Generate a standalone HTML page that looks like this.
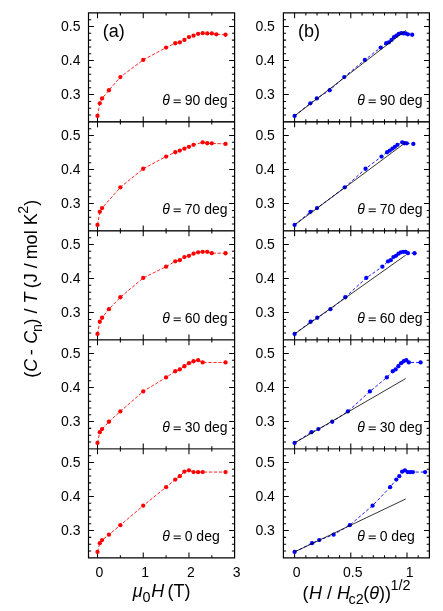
<!DOCTYPE html>
<html><head><meta charset="utf-8"><title>Figure</title>
<style>html,body{margin:0;padding:0;background:#fff}svg{display:block;will-change:transform}text{font-family:"Liberation Sans",sans-serif;fill:#000}.i{font-style:italic}</style>
</head><body>
<svg width="443" height="611" viewBox="0 0 443 611">
<rect width="443" height="611" fill="#fff"/>
<path d="M88.5,12.85H234.6V557.83H88.5ZM283.4,12.85H429.4V557.83H283.4Z" fill="none" stroke="#000" stroke-width="1.2" stroke-linecap="butt" stroke-linejoin="miter"/>
<path d="M97.5,12.85v5.4M97.5,121.85v-5.4M143.23,12.85v5.4M143.23,121.85v-5.4M188.96,12.85v5.4M188.96,121.85v-5.4M120.36,12.85v2.7M120.36,121.85v-2.7M166.09,12.85v2.7M166.09,121.85v-2.7M211.82,12.85v2.7M211.82,121.85v-2.7M88.5,115.03h2.7M234.6,115.03h-2.7M88.5,108.22h2.7M234.6,108.22h-2.7M88.5,101.41h2.7M234.6,101.41h-2.7M88.5,94.59h5.4M234.6,94.59h-5.4M88.5,87.78h2.7M234.6,87.78h-2.7M88.5,80.97h2.7M234.6,80.97h-2.7M88.5,74.16h2.7M234.6,74.16h-2.7M88.5,67.35h2.7M234.6,67.35h-2.7M88.5,60.53h5.4M234.6,60.53h-5.4M88.5,53.72h2.7M234.6,53.72h-2.7M88.5,46.91h2.7M234.6,46.91h-2.7M88.5,40.1h2.7M234.6,40.1h-2.7M88.5,33.29h2.7M234.6,33.29h-2.7M88.5,26.47h5.4M234.6,26.47h-5.4M88.5,19.66h2.7M234.6,19.66h-2.7M97.5,121.85v5.4M97.5,230.84v-5.4M143.23,121.85v5.4M143.23,230.84v-5.4M188.96,121.85v5.4M188.96,230.84v-5.4M120.36,121.85v2.7M120.36,230.84v-2.7M166.09,121.85v2.7M166.09,230.84v-2.7M211.82,121.85v2.7M211.82,230.84v-2.7M88.5,224.03h2.7M234.6,224.03h-2.7M88.5,217.21h2.7M234.6,217.21h-2.7M88.5,210.4h2.7M234.6,210.4h-2.7M88.5,203.59h5.4M234.6,203.59h-5.4M88.5,196.78h2.7M234.6,196.78h-2.7M88.5,189.97h2.7M234.6,189.97h-2.7M88.5,183.15h2.7M234.6,183.15h-2.7M88.5,176.34h2.7M234.6,176.34h-2.7M88.5,169.53h5.4M234.6,169.53h-5.4M88.5,162.72h2.7M234.6,162.72h-2.7M88.5,155.91h2.7M234.6,155.91h-2.7M88.5,149.09h2.7M234.6,149.09h-2.7M88.5,142.28h2.7M234.6,142.28h-2.7M88.5,135.47h5.4M234.6,135.47h-5.4M88.5,128.66h2.7M234.6,128.66h-2.7M97.5,230.84v5.4M97.5,339.84v-5.4M143.23,230.84v5.4M143.23,339.84v-5.4M188.96,230.84v5.4M188.96,339.84v-5.4M120.36,230.84v2.7M120.36,339.84v-2.7M166.09,230.84v2.7M166.09,339.84v-2.7M211.82,230.84v2.7M211.82,339.84v-2.7M88.5,333.02h2.7M234.6,333.02h-2.7M88.5,326.21h2.7M234.6,326.21h-2.7M88.5,319.4h2.7M234.6,319.4h-2.7M88.5,312.59h5.4M234.6,312.59h-5.4M88.5,305.77h2.7M234.6,305.77h-2.7M88.5,298.96h2.7M234.6,298.96h-2.7M88.5,292.15h2.7M234.6,292.15h-2.7M88.5,285.34h2.7M234.6,285.34h-2.7M88.5,278.53h5.4M234.6,278.53h-5.4M88.5,271.71h2.7M234.6,271.71h-2.7M88.5,264.9h2.7M234.6,264.9h-2.7M88.5,258.09h2.7M234.6,258.09h-2.7M88.5,251.28h2.7M234.6,251.28h-2.7M88.5,244.47h5.4M234.6,244.47h-5.4M88.5,237.65h2.7M234.6,237.65h-2.7M97.5,339.84v5.4M97.5,448.83v-5.4M143.23,339.84v5.4M143.23,448.83v-5.4M188.96,339.84v5.4M188.96,448.83v-5.4M120.36,339.84v2.7M120.36,448.83v-2.7M166.09,339.84v2.7M166.09,448.83v-2.7M211.82,339.84v2.7M211.82,448.83v-2.7M88.5,442.02h2.7M234.6,442.02h-2.7M88.5,435.21h2.7M234.6,435.21h-2.7M88.5,428.39h2.7M234.6,428.39h-2.7M88.5,421.58h5.4M234.6,421.58h-5.4M88.5,414.77h2.7M234.6,414.77h-2.7M88.5,407.96h2.7M234.6,407.96h-2.7M88.5,401.15h2.7M234.6,401.15h-2.7M88.5,394.33h2.7M234.6,394.33h-2.7M88.5,387.52h5.4M234.6,387.52h-5.4M88.5,380.71h2.7M234.6,380.71h-2.7M88.5,373.9h2.7M234.6,373.9h-2.7M88.5,367.09h2.7M234.6,367.09h-2.7M88.5,360.27h2.7M234.6,360.27h-2.7M88.5,353.46h5.4M234.6,353.46h-5.4M88.5,346.65h2.7M234.6,346.65h-2.7M97.5,448.83v5.4M97.5,557.83v-5.4M143.23,448.83v5.4M143.23,557.83v-5.4M188.96,448.83v5.4M188.96,557.83v-5.4M120.36,448.83v2.7M120.36,557.83v-2.7M166.09,448.83v2.7M166.09,557.83v-2.7M211.82,448.83v2.7M211.82,557.83v-2.7M88.5,551.01h2.7M234.6,551.01h-2.7M88.5,544.2h2.7M234.6,544.2h-2.7M88.5,537.39h2.7M234.6,537.39h-2.7M88.5,530.58h5.4M234.6,530.58h-5.4M88.5,523.77h2.7M234.6,523.77h-2.7M88.5,516.95h2.7M234.6,516.95h-2.7M88.5,510.14h2.7M234.6,510.14h-2.7M88.5,503.33h2.7M234.6,503.33h-2.7M88.5,496.52h5.4M234.6,496.52h-5.4M88.5,489.71h2.7M234.6,489.71h-2.7M88.5,482.89h2.7M234.6,482.89h-2.7M88.5,476.08h2.7M234.6,476.08h-2.7M88.5,469.27h2.7M234.6,469.27h-2.7M88.5,462.46h5.4M234.6,462.46h-5.4M88.5,455.65h2.7M234.6,455.65h-2.7M294.6,12.85v5.4M294.6,121.85v-5.4M350.8,12.85v5.4M350.8,121.85v-5.4M407,12.85v5.4M407,121.85v-5.4M305.84,12.85v2.7M305.84,121.85v-2.7M317.08,12.85v2.7M317.08,121.85v-2.7M328.32,12.85v2.7M328.32,121.85v-2.7M339.56,12.85v2.7M339.56,121.85v-2.7M362.04,12.85v2.7M362.04,121.85v-2.7M373.28,12.85v2.7M373.28,121.85v-2.7M384.52,12.85v2.7M384.52,121.85v-2.7M395.76,12.85v2.7M395.76,121.85v-2.7M418.24,12.85v2.7M418.24,121.85v-2.7M283.4,115.03h2.7M429.4,115.03h-2.7M283.4,108.22h2.7M429.4,108.22h-2.7M283.4,101.41h2.7M429.4,101.41h-2.7M283.4,94.59h5.4M429.4,94.59h-5.4M283.4,87.78h2.7M429.4,87.78h-2.7M283.4,80.97h2.7M429.4,80.97h-2.7M283.4,74.16h2.7M429.4,74.16h-2.7M283.4,67.35h2.7M429.4,67.35h-2.7M283.4,60.53h5.4M429.4,60.53h-5.4M283.4,53.72h2.7M429.4,53.72h-2.7M283.4,46.91h2.7M429.4,46.91h-2.7M283.4,40.1h2.7M429.4,40.1h-2.7M283.4,33.29h2.7M429.4,33.29h-2.7M283.4,26.47h5.4M429.4,26.47h-5.4M283.4,19.66h2.7M429.4,19.66h-2.7M294.6,121.85v5.4M294.6,230.84v-5.4M350.8,121.85v5.4M350.8,230.84v-5.4M407,121.85v5.4M407,230.84v-5.4M305.84,121.85v2.7M305.84,230.84v-2.7M317.08,121.85v2.7M317.08,230.84v-2.7M328.32,121.85v2.7M328.32,230.84v-2.7M339.56,121.85v2.7M339.56,230.84v-2.7M362.04,121.85v2.7M362.04,230.84v-2.7M373.28,121.85v2.7M373.28,230.84v-2.7M384.52,121.85v2.7M384.52,230.84v-2.7M395.76,121.85v2.7M395.76,230.84v-2.7M418.24,121.85v2.7M418.24,230.84v-2.7M283.4,224.03h2.7M429.4,224.03h-2.7M283.4,217.21h2.7M429.4,217.21h-2.7M283.4,210.4h2.7M429.4,210.4h-2.7M283.4,203.59h5.4M429.4,203.59h-5.4M283.4,196.78h2.7M429.4,196.78h-2.7M283.4,189.97h2.7M429.4,189.97h-2.7M283.4,183.15h2.7M429.4,183.15h-2.7M283.4,176.34h2.7M429.4,176.34h-2.7M283.4,169.53h5.4M429.4,169.53h-5.4M283.4,162.72h2.7M429.4,162.72h-2.7M283.4,155.91h2.7M429.4,155.91h-2.7M283.4,149.09h2.7M429.4,149.09h-2.7M283.4,142.28h2.7M429.4,142.28h-2.7M283.4,135.47h5.4M429.4,135.47h-5.4M283.4,128.66h2.7M429.4,128.66h-2.7M294.6,230.84v5.4M294.6,339.84v-5.4M350.8,230.84v5.4M350.8,339.84v-5.4M407,230.84v5.4M407,339.84v-5.4M305.84,230.84v2.7M305.84,339.84v-2.7M317.08,230.84v2.7M317.08,339.84v-2.7M328.32,230.84v2.7M328.32,339.84v-2.7M339.56,230.84v2.7M339.56,339.84v-2.7M362.04,230.84v2.7M362.04,339.84v-2.7M373.28,230.84v2.7M373.28,339.84v-2.7M384.52,230.84v2.7M384.52,339.84v-2.7M395.76,230.84v2.7M395.76,339.84v-2.7M418.24,230.84v2.7M418.24,339.84v-2.7M283.4,333.02h2.7M429.4,333.02h-2.7M283.4,326.21h2.7M429.4,326.21h-2.7M283.4,319.4h2.7M429.4,319.4h-2.7M283.4,312.59h5.4M429.4,312.59h-5.4M283.4,305.77h2.7M429.4,305.77h-2.7M283.4,298.96h2.7M429.4,298.96h-2.7M283.4,292.15h2.7M429.4,292.15h-2.7M283.4,285.34h2.7M429.4,285.34h-2.7M283.4,278.53h5.4M429.4,278.53h-5.4M283.4,271.71h2.7M429.4,271.71h-2.7M283.4,264.9h2.7M429.4,264.9h-2.7M283.4,258.09h2.7M429.4,258.09h-2.7M283.4,251.28h2.7M429.4,251.28h-2.7M283.4,244.47h5.4M429.4,244.47h-5.4M283.4,237.65h2.7M429.4,237.65h-2.7M294.6,339.84v5.4M294.6,448.83v-5.4M350.8,339.84v5.4M350.8,448.83v-5.4M407,339.84v5.4M407,448.83v-5.4M305.84,339.84v2.7M305.84,448.83v-2.7M317.08,339.84v2.7M317.08,448.83v-2.7M328.32,339.84v2.7M328.32,448.83v-2.7M339.56,339.84v2.7M339.56,448.83v-2.7M362.04,339.84v2.7M362.04,448.83v-2.7M373.28,339.84v2.7M373.28,448.83v-2.7M384.52,339.84v2.7M384.52,448.83v-2.7M395.76,339.84v2.7M395.76,448.83v-2.7M418.24,339.84v2.7M418.24,448.83v-2.7M283.4,442.02h2.7M429.4,442.02h-2.7M283.4,435.21h2.7M429.4,435.21h-2.7M283.4,428.39h2.7M429.4,428.39h-2.7M283.4,421.58h5.4M429.4,421.58h-5.4M283.4,414.77h2.7M429.4,414.77h-2.7M283.4,407.96h2.7M429.4,407.96h-2.7M283.4,401.15h2.7M429.4,401.15h-2.7M283.4,394.33h2.7M429.4,394.33h-2.7M283.4,387.52h5.4M429.4,387.52h-5.4M283.4,380.71h2.7M429.4,380.71h-2.7M283.4,373.9h2.7M429.4,373.9h-2.7M283.4,367.09h2.7M429.4,367.09h-2.7M283.4,360.27h2.7M429.4,360.27h-2.7M283.4,353.46h5.4M429.4,353.46h-5.4M283.4,346.65h2.7M429.4,346.65h-2.7M294.6,448.83v5.4M294.6,557.83v-5.4M350.8,448.83v5.4M350.8,557.83v-5.4M407,448.83v5.4M407,557.83v-5.4M305.84,448.83v2.7M305.84,557.83v-2.7M317.08,448.83v2.7M317.08,557.83v-2.7M328.32,448.83v2.7M328.32,557.83v-2.7M339.56,448.83v2.7M339.56,557.83v-2.7M362.04,448.83v2.7M362.04,557.83v-2.7M373.28,448.83v2.7M373.28,557.83v-2.7M384.52,448.83v2.7M384.52,557.83v-2.7M395.76,448.83v2.7M395.76,557.83v-2.7M418.24,448.83v2.7M418.24,557.83v-2.7M283.4,551.01h2.7M429.4,551.01h-2.7M283.4,544.2h2.7M429.4,544.2h-2.7M283.4,537.39h2.7M429.4,537.39h-2.7M283.4,530.58h5.4M429.4,530.58h-5.4M283.4,523.77h2.7M429.4,523.77h-2.7M283.4,516.95h2.7M429.4,516.95h-2.7M283.4,510.14h2.7M429.4,510.14h-2.7M283.4,503.33h2.7M429.4,503.33h-2.7M283.4,496.52h5.4M429.4,496.52h-5.4M283.4,489.71h2.7M429.4,489.71h-2.7M283.4,482.89h2.7M429.4,482.89h-2.7M283.4,476.08h2.7M429.4,476.08h-2.7M283.4,469.27h2.7M429.4,469.27h-2.7M283.4,462.46h5.4M429.4,462.46h-5.4M283.4,455.65h2.7M429.4,455.65h-2.7" fill="none" stroke="#000" stroke-width="1.05"/>
<rect x="88.5" y="121" width="146.1" height="1" fill="#000" fill-opacity="0.9"/><rect x="88.5" y="122" width="146.1" height="1" fill="#000" fill-opacity="0.57"/>
<rect x="88.5" y="230" width="146.1" height="1" fill="#000" fill-opacity="0.84"/><rect x="88.5" y="231" width="146.1" height="1" fill="#000" fill-opacity="0.49"/>
<rect x="88.5" y="339" width="146.1" height="1" fill="#000" fill-opacity="0.75"/><rect x="88.5" y="340" width="146.1" height="1" fill="#000" fill-opacity="0.45"/>
<rect x="88.5" y="448" width="146.1" height="1" fill="#000" fill-opacity="0.65"/><rect x="88.5" y="449" width="146.1" height="1" fill="#000" fill-opacity="0.4"/>
<rect x="283.4" y="121" width="146" height="1" fill="#000" fill-opacity="0.9"/><rect x="283.4" y="122" width="146" height="1" fill="#000" fill-opacity="0.57"/>
<rect x="283.4" y="230" width="146" height="1" fill="#000" fill-opacity="0.84"/><rect x="283.4" y="231" width="146" height="1" fill="#000" fill-opacity="0.49"/>
<rect x="283.4" y="339" width="146" height="1" fill="#000" fill-opacity="0.75"/><rect x="283.4" y="340" width="146" height="1" fill="#000" fill-opacity="0.45"/>
<rect x="283.4" y="448" width="146" height="1" fill="#000" fill-opacity="0.65"/><rect x="283.4" y="449" width="146" height="1" fill="#000" fill-opacity="0.4"/>
<polyline fill="none" stroke="#ff0000" stroke-width="0.85" stroke-dasharray="3.3 1.7" points="97.5,115.95 99.79,103.35 102.07,98.45 108.93,90.25 120.36,77.05 143.23,59.95 166.09,47.55 175.24,43.25 179.81,42.35 184.39,39.95 188.96,37.05 193.53,35.65 198.11,33.85 202.68,33.15 207.25,33.45 211.82,33.45 216.4,34.35 225.54,34.75"/>
<g fill="#ff0000"><circle cx="97.5" cy="115.95" r="2.15"/><circle cx="99.79" cy="103.35" r="2.15"/><circle cx="102.07" cy="98.45" r="2.15"/><circle cx="108.93" cy="90.25" r="2.15"/><circle cx="120.36" cy="77.05" r="2.15"/><circle cx="143.23" cy="59.95" r="2.15"/><circle cx="166.09" cy="47.55" r="2.15"/><circle cx="175.24" cy="43.25" r="2.15"/><circle cx="179.81" cy="42.35" r="2.15"/><circle cx="184.39" cy="39.95" r="2.15"/><circle cx="188.96" cy="37.05" r="2.15"/><circle cx="193.53" cy="35.65" r="2.15"/><circle cx="198.11" cy="33.85" r="2.15"/><circle cx="202.68" cy="33.15" r="2.15"/><circle cx="207.25" cy="33.45" r="2.15"/><circle cx="211.82" cy="33.45" r="2.15"/><circle cx="216.4" cy="34.35" r="2.15"/><circle cx="225.54" cy="34.75" r="2.15"/></g>
<polyline fill="none" stroke="#0000ff" stroke-width="0.9" stroke-dasharray="3.1 2.1" points="294.6,115.95 310.31,103.35 316.82,98.45 329.73,90.25 344.28,77.05 364.86,59.95 380.66,47.55 386.21,43.25 388.87,42.35 391.45,39.95 393.97,37.05 396.42,35.65 398.82,33.85 401.16,33.15 403.45,33.45 405.7,33.45 407.9,34.35 412.17,34.75"/>
<g fill="#0000ff"><circle cx="294.6" cy="115.95" r="2.15"/><circle cx="310.31" cy="103.35" r="2.15"/><circle cx="316.82" cy="98.45" r="2.15"/><circle cx="329.73" cy="90.25" r="2.15"/><circle cx="344.28" cy="77.05" r="2.15"/><circle cx="364.86" cy="59.95" r="2.15"/><circle cx="380.66" cy="47.55" r="2.15"/><circle cx="386.21" cy="43.25" r="2.15"/><circle cx="388.87" cy="42.35" r="2.15"/><circle cx="391.45" cy="39.95" r="2.15"/><circle cx="393.97" cy="37.05" r="2.15"/><circle cx="396.42" cy="35.65" r="2.15"/><circle cx="398.82" cy="33.85" r="2.15"/><circle cx="401.16" cy="33.15" r="2.15"/><circle cx="403.45" cy="33.45" r="2.15"/><circle cx="405.7" cy="33.45" r="2.15"/><circle cx="407.9" cy="34.35" r="2.15"/><circle cx="412.17" cy="34.75" r="2.15"/></g>
<line x1="294.6" y1="115.95" x2="405.7" y2="30.45" stroke="#000" stroke-width="0.8"/>
<polyline fill="none" stroke="#ff0000" stroke-width="0.85" stroke-dasharray="3.3 1.7" points="97.5,224.95 99.79,211.85 102.07,208.05 120.36,187.35 143.23,168.75 166.09,156.55 175.24,152.25 179.81,150.55 184.39,148.65 188.96,146.85 193.53,144.85 202.68,142.35 207.25,143.25 211.82,143.35 225.54,143.95"/>
<g fill="#ff0000"><circle cx="97.5" cy="224.95" r="2.15"/><circle cx="99.79" cy="211.85" r="2.15"/><circle cx="102.07" cy="208.05" r="2.15"/><circle cx="120.36" cy="187.35" r="2.15"/><circle cx="143.23" cy="168.75" r="2.15"/><circle cx="166.09" cy="156.55" r="2.15"/><circle cx="175.24" cy="152.25" r="2.15"/><circle cx="179.81" cy="150.55" r="2.15"/><circle cx="184.39" cy="148.65" r="2.15"/><circle cx="188.96" cy="146.85" r="2.15"/><circle cx="193.53" cy="144.85" r="2.15"/><circle cx="202.68" cy="142.35" r="2.15"/><circle cx="207.25" cy="143.25" r="2.15"/><circle cx="211.82" cy="143.35" r="2.15"/><circle cx="225.54" cy="143.95" r="2.15"/></g>
<polyline fill="none" stroke="#0000ff" stroke-width="0.9" stroke-dasharray="3.1 2.1" points="294.6,224.95 310.47,211.85 317.04,208.05 344.78,187.35 365.56,168.75 381.51,156.55 387.12,152.25 389.8,150.55 392.41,148.65 394.95,146.85 397.43,144.85 402.22,142.35 404.53,143.25 406.8,143.35 413.34,143.95"/>
<g fill="#0000ff"><circle cx="294.6" cy="224.95" r="2.15"/><circle cx="310.47" cy="211.85" r="2.15"/><circle cx="317.04" cy="208.05" r="2.15"/><circle cx="344.78" cy="187.35" r="2.15"/><circle cx="365.56" cy="168.75" r="2.15"/><circle cx="381.51" cy="156.55" r="2.15"/><circle cx="387.12" cy="152.25" r="2.15"/><circle cx="389.8" cy="150.55" r="2.15"/><circle cx="392.41" cy="148.65" r="2.15"/><circle cx="394.95" cy="146.85" r="2.15"/><circle cx="397.43" cy="144.85" r="2.15"/><circle cx="402.22" cy="142.35" r="2.15"/><circle cx="404.53" cy="143.25" r="2.15"/><circle cx="406.8" cy="143.35" r="2.15"/><circle cx="413.34" cy="143.95" r="2.15"/></g>
<line x1="294.6" y1="224.95" x2="405.7" y2="142.45" stroke="#000" stroke-width="0.8"/>
<polyline fill="none" stroke="#ff0000" stroke-width="0.85" stroke-dasharray="3.3 1.7" points="97.5,333.95 99.79,321.75 102.07,317.75 108.93,309.15 120.36,297.25 143.23,277.95 166.09,266.65 175.24,261.35 179.81,260.15 184.39,257.05 188.96,255.85 193.53,253.65 198.11,252.35 202.68,251.85 207.25,251.85 211.82,253.15 225.54,253.25"/>
<g fill="#ff0000"><circle cx="97.5" cy="333.95" r="2.15"/><circle cx="99.79" cy="321.75" r="2.15"/><circle cx="102.07" cy="317.75" r="2.15"/><circle cx="108.93" cy="309.15" r="2.15"/><circle cx="120.36" cy="297.25" r="2.15"/><circle cx="143.23" cy="277.95" r="2.15"/><circle cx="166.09" cy="266.65" r="2.15"/><circle cx="175.24" cy="261.35" r="2.15"/><circle cx="179.81" cy="260.15" r="2.15"/><circle cx="184.39" cy="257.05" r="2.15"/><circle cx="188.96" cy="255.85" r="2.15"/><circle cx="193.53" cy="253.65" r="2.15"/><circle cx="198.11" cy="252.35" r="2.15"/><circle cx="202.68" cy="251.85" r="2.15"/><circle cx="207.25" cy="251.85" r="2.15"/><circle cx="211.82" cy="253.15" r="2.15"/><circle cx="225.54" cy="253.25" r="2.15"/></g>
<polyline fill="none" stroke="#0000ff" stroke-width="0.9" stroke-dasharray="3.1 2.1" points="294.6,333.95 310.63,321.75 317.27,317.75 330.44,309.15 345.28,297.25 366.28,277.95 382.39,266.65 388.06,261.35 390.77,260.15 393.4,257.05 395.97,255.85 398.47,253.65 400.92,252.35 403.31,251.85 405.64,251.85 407.93,253.15 414.54,253.25"/>
<g fill="#0000ff"><circle cx="294.6" cy="333.95" r="2.15"/><circle cx="310.63" cy="321.75" r="2.15"/><circle cx="317.27" cy="317.75" r="2.15"/><circle cx="330.44" cy="309.15" r="2.15"/><circle cx="345.28" cy="297.25" r="2.15"/><circle cx="366.28" cy="277.95" r="2.15"/><circle cx="382.39" cy="266.65" r="2.15"/><circle cx="388.06" cy="261.35" r="2.15"/><circle cx="390.77" cy="260.15" r="2.15"/><circle cx="393.4" cy="257.05" r="2.15"/><circle cx="395.97" cy="255.85" r="2.15"/><circle cx="398.47" cy="253.65" r="2.15"/><circle cx="400.92" cy="252.35" r="2.15"/><circle cx="403.31" cy="251.85" r="2.15"/><circle cx="405.64" cy="251.85" r="2.15"/><circle cx="407.93" cy="253.15" r="2.15"/><circle cx="414.54" cy="253.25" r="2.15"/></g>
<line x1="294.6" y1="333.95" x2="405.7" y2="255.15" stroke="#000" stroke-width="0.8"/>
<polyline fill="none" stroke="#ff0000" stroke-width="0.85" stroke-dasharray="3.3 1.7" points="97.5,442.95 99.79,432.15 102.07,429.05 108.93,421.75 120.36,411.45 143.23,391.45 166.09,377.45 175.24,371.25 179.81,369.45 184.39,366.25 188.96,363.15 193.53,361.25 198.11,360.15 202.68,362.45 225.54,362.45"/>
<g fill="#ff0000"><circle cx="97.5" cy="442.95" r="2.15"/><circle cx="99.79" cy="432.15" r="2.15"/><circle cx="102.07" cy="429.05" r="2.15"/><circle cx="108.93" cy="421.75" r="2.15"/><circle cx="120.36" cy="411.45" r="2.15"/><circle cx="143.23" cy="391.45" r="2.15"/><circle cx="166.09" cy="377.45" r="2.15"/><circle cx="175.24" cy="371.25" r="2.15"/><circle cx="179.81" cy="369.45" r="2.15"/><circle cx="184.39" cy="366.25" r="2.15"/><circle cx="188.96" cy="363.15" r="2.15"/><circle cx="193.53" cy="361.25" r="2.15"/><circle cx="198.11" cy="360.15" r="2.15"/><circle cx="202.68" cy="362.45" r="2.15"/><circle cx="225.54" cy="362.45" r="2.15"/></g>
<polyline fill="none" stroke="#0000ff" stroke-width="0.9" stroke-dasharray="3.1 2.1" points="294.6,442.95 311.44,432.15 318.41,429.05 332.25,421.75 347.85,411.45 369.9,391.45 386.83,377.45 392.78,371.25 395.63,369.45 398.4,366.25 401.09,363.15 403.72,361.25 406.29,360.15 408.8,362.45 420.6,362.45"/>
<g fill="#0000ff"><circle cx="294.6" cy="442.95" r="2.15"/><circle cx="311.44" cy="432.15" r="2.15"/><circle cx="318.41" cy="429.05" r="2.15"/><circle cx="332.25" cy="421.75" r="2.15"/><circle cx="347.85" cy="411.45" r="2.15"/><circle cx="369.9" cy="391.45" r="2.15"/><circle cx="386.83" cy="377.45" r="2.15"/><circle cx="392.78" cy="371.25" r="2.15"/><circle cx="395.63" cy="369.45" r="2.15"/><circle cx="398.4" cy="366.25" r="2.15"/><circle cx="401.09" cy="363.15" r="2.15"/><circle cx="403.72" cy="361.25" r="2.15"/><circle cx="406.29" cy="360.15" r="2.15"/><circle cx="408.8" cy="362.45" r="2.15"/><circle cx="420.6" cy="362.45" r="2.15"/></g>
<line x1="294.6" y1="442.95" x2="405.7" y2="378.55" stroke="#000" stroke-width="0.8"/>
<polyline fill="none" stroke="#ff0000" stroke-width="0.85" stroke-dasharray="3.3 1.7" points="97.5,551.95 99.79,543.15 102.07,540.05 108.93,534.65 120.36,525.15 143.23,505.65 166.09,487.15 175.24,479.55 179.81,476.15 184.39,471.65 188.96,470.35 193.53,472.05 198.11,472.15 202.68,472.05 225.54,472.05"/>
<g fill="#ff0000"><circle cx="97.5" cy="551.95" r="2.15"/><circle cx="99.79" cy="543.15" r="2.15"/><circle cx="102.07" cy="540.05" r="2.15"/><circle cx="108.93" cy="534.65" r="2.15"/><circle cx="120.36" cy="525.15" r="2.15"/><circle cx="143.23" cy="505.65" r="2.15"/><circle cx="166.09" cy="487.15" r="2.15"/><circle cx="175.24" cy="479.55" r="2.15"/><circle cx="179.81" cy="476.15" r="2.15"/><circle cx="184.39" cy="471.65" r="2.15"/><circle cx="188.96" cy="470.35" r="2.15"/><circle cx="193.53" cy="472.05" r="2.15"/><circle cx="198.11" cy="472.15" r="2.15"/><circle cx="202.68" cy="472.05" r="2.15"/><circle cx="225.54" cy="472.05" r="2.15"/></g>
<polyline fill="none" stroke="#0000ff" stroke-width="0.9" stroke-dasharray="3.1 2.1" points="294.6,551.95 312.04,543.15 319.26,540.05 333.6,534.65 349.75,525.15 372.59,505.65 390.12,487.15 396.29,479.55 399.24,476.15 402.1,471.65 404.9,470.35 407.62,472.05 410.28,472.15 412.88,472.05 425.1,472.05"/>
<g fill="#0000ff"><circle cx="294.6" cy="551.95" r="2.15"/><circle cx="312.04" cy="543.15" r="2.15"/><circle cx="319.26" cy="540.05" r="2.15"/><circle cx="333.6" cy="534.65" r="2.15"/><circle cx="349.75" cy="525.15" r="2.15"/><circle cx="372.59" cy="505.65" r="2.15"/><circle cx="390.12" cy="487.15" r="2.15"/><circle cx="396.29" cy="479.55" r="2.15"/><circle cx="399.24" cy="476.15" r="2.15"/><circle cx="402.1" cy="471.65" r="2.15"/><circle cx="404.9" cy="470.35" r="2.15"/><circle cx="407.62" cy="472.05" r="2.15"/><circle cx="410.28" cy="472.15" r="2.15"/><circle cx="412.88" cy="472.05" r="2.15"/><circle cx="425.1" cy="472.05" r="2.15"/></g>
<line x1="294.6" y1="551.95" x2="405.7" y2="498.95" stroke="#000" stroke-width="0.8"/>
<text x="80.5" y="31.27" font-size="14" text-anchor="end">0.5</text>
<text x="274.9" y="31.27" font-size="14" text-anchor="end">0.5</text>
<text x="80.5" y="65.33" font-size="14" text-anchor="end">0.4</text>
<text x="274.9" y="65.33" font-size="14" text-anchor="end">0.4</text>
<text x="80.5" y="99.39" font-size="14" text-anchor="end">0.3</text>
<text x="274.9" y="99.39" font-size="14" text-anchor="end">0.3</text>
<text x="162.2" y="105.35" font-size="14" class="i">θ</text><text x="184.7" y="105.35" font-size="14">90 deg</text>
<path d="M173.6,100.05h7.2M173.6,102.65h7.2" stroke="#000" stroke-width="1" fill="none"/>
<text x="357.2" y="105.35" font-size="14" class="i">θ</text><text x="379.7" y="105.35" font-size="14">90 deg</text>
<path d="M368.6,100.05h7.2M368.6,102.65h7.2" stroke="#000" stroke-width="1" fill="none"/>
<text x="80.5" y="140.27" font-size="14" text-anchor="end">0.5</text>
<text x="274.9" y="140.27" font-size="14" text-anchor="end">0.5</text>
<text x="80.5" y="174.33" font-size="14" text-anchor="end">0.4</text>
<text x="274.9" y="174.33" font-size="14" text-anchor="end">0.4</text>
<text x="80.5" y="208.39" font-size="14" text-anchor="end">0.3</text>
<text x="274.9" y="208.39" font-size="14" text-anchor="end">0.3</text>
<text x="162.2" y="214.35" font-size="14" class="i">θ</text><text x="184.7" y="214.35" font-size="14">70 deg</text>
<path d="M173.6,209.05h7.2M173.6,211.65h7.2" stroke="#000" stroke-width="1" fill="none"/>
<text x="357.2" y="214.35" font-size="14" class="i">θ</text><text x="379.7" y="214.35" font-size="14">70 deg</text>
<path d="M368.6,209.05h7.2M368.6,211.65h7.2" stroke="#000" stroke-width="1" fill="none"/>
<text x="80.5" y="249.27" font-size="14" text-anchor="end">0.5</text>
<text x="274.9" y="249.27" font-size="14" text-anchor="end">0.5</text>
<text x="80.5" y="283.33" font-size="14" text-anchor="end">0.4</text>
<text x="274.9" y="283.33" font-size="14" text-anchor="end">0.4</text>
<text x="80.5" y="317.39" font-size="14" text-anchor="end">0.3</text>
<text x="274.9" y="317.39" font-size="14" text-anchor="end">0.3</text>
<text x="162.2" y="323.34" font-size="14" class="i">θ</text><text x="184.7" y="323.34" font-size="14">60 deg</text>
<path d="M173.6,318.05h7.2M173.6,320.65h7.2" stroke="#000" stroke-width="1" fill="none"/>
<text x="357.2" y="323.34" font-size="14" class="i">θ</text><text x="379.7" y="323.34" font-size="14">60 deg</text>
<path d="M368.6,318.05h7.2M368.6,320.65h7.2" stroke="#000" stroke-width="1" fill="none"/>
<text x="80.5" y="358.26" font-size="14" text-anchor="end">0.5</text>
<text x="274.9" y="358.26" font-size="14" text-anchor="end">0.5</text>
<text x="80.5" y="392.32" font-size="14" text-anchor="end">0.4</text>
<text x="274.9" y="392.32" font-size="14" text-anchor="end">0.4</text>
<text x="80.5" y="426.38" font-size="14" text-anchor="end">0.3</text>
<text x="274.9" y="426.38" font-size="14" text-anchor="end">0.3</text>
<text x="162.2" y="432.34" font-size="14" class="i">θ</text><text x="184.7" y="432.34" font-size="14">30 deg</text>
<path d="M173.6,427.05h7.2M173.6,429.65h7.2" stroke="#000" stroke-width="1" fill="none"/>
<text x="357.2" y="432.34" font-size="14" class="i">θ</text><text x="379.7" y="432.34" font-size="14">30 deg</text>
<path d="M368.6,427.05h7.2M368.6,429.65h7.2" stroke="#000" stroke-width="1" fill="none"/>
<text x="80.5" y="467.26" font-size="14" text-anchor="end">0.5</text>
<text x="274.9" y="467.26" font-size="14" text-anchor="end">0.5</text>
<text x="80.5" y="501.32" font-size="14" text-anchor="end">0.4</text>
<text x="274.9" y="501.32" font-size="14" text-anchor="end">0.4</text>
<text x="80.5" y="535.38" font-size="14" text-anchor="end">0.3</text>
<text x="274.9" y="535.38" font-size="14" text-anchor="end">0.3</text>
<text x="162.2" y="541.33" font-size="14" class="i">θ</text><text x="184.7" y="541.33" font-size="14">0 deg</text>
<path d="M173.6,536.05h7.2M173.6,538.65h7.2" stroke="#000" stroke-width="1" fill="none"/>
<text x="357.2" y="541.33" font-size="14" class="i">θ</text><text x="379.7" y="541.33" font-size="14">0 deg</text>
<path d="M368.6,536.05h7.2M368.6,538.65h7.2" stroke="#000" stroke-width="1" fill="none"/>
<text x="99.5" y="576.8" font-size="14" text-anchor="middle">0</text>
<text x="145.23" y="576.8" font-size="14" text-anchor="middle">1</text>
<text x="190.96" y="576.8" font-size="14" text-anchor="middle">2</text>
<text x="236.69" y="576.8" font-size="14" text-anchor="middle">3</text>
<text x="296.6" y="576.8" font-size="14" text-anchor="middle">0</text>
<text x="352.8" y="576.8" font-size="14" text-anchor="middle">0.5</text>
<text x="409.7" y="576.8" font-size="14" text-anchor="middle">1</text>
<text x="102.8" y="36.8" font-size="18">(a)</text>
<text x="298.0" y="36.8" font-size="18">(b)</text>
<text x="132.7" y="596.7" font-size="18"><tspan class="i">μ</tspan><tspan font-size="14.4" dy="5.4">0</tspan><tspan class="i" dy="-5.4" dx="0.6">H</tspan><tspan dx="-1.6"> (T)</tspan></text>
<text x="302.5" y="598.8" font-size="18">(<tspan class="i" dx="0.5">H</tspan> / <tspan class="i">H</tspan><tspan font-size="14.4" dy="5.4" dx="-1.5">c2</tspan><tspan dy="-5.4" dx="-0.5">(</tspan><tspan class="i">θ</tspan>))<tspan font-size="14.4" dy="-9" dx="-0.5">1/2</tspan></text>
<text transform="translate(37,377.7) rotate(-90)" font-size="18">(<tspan class="i">C</tspan><tspan dx="-1.5"> -</tspan><tspan class="i" dx="5.5">C</tspan><tspan font-size="14.4" dy="5.4" dx="-1.3">n</tspan><tspan dy="-5.4" dx="-0.5">)</tspan> / <tspan class="i">T</tspan><tspan dx="-0.7"> (J / </tspan><tspan dx="-1.2">mol K</tspan><tspan font-size="14.4" dy="-9" dx="-0.5">2</tspan><tspan dy="9">)</tspan></text>
</svg></body></html>
